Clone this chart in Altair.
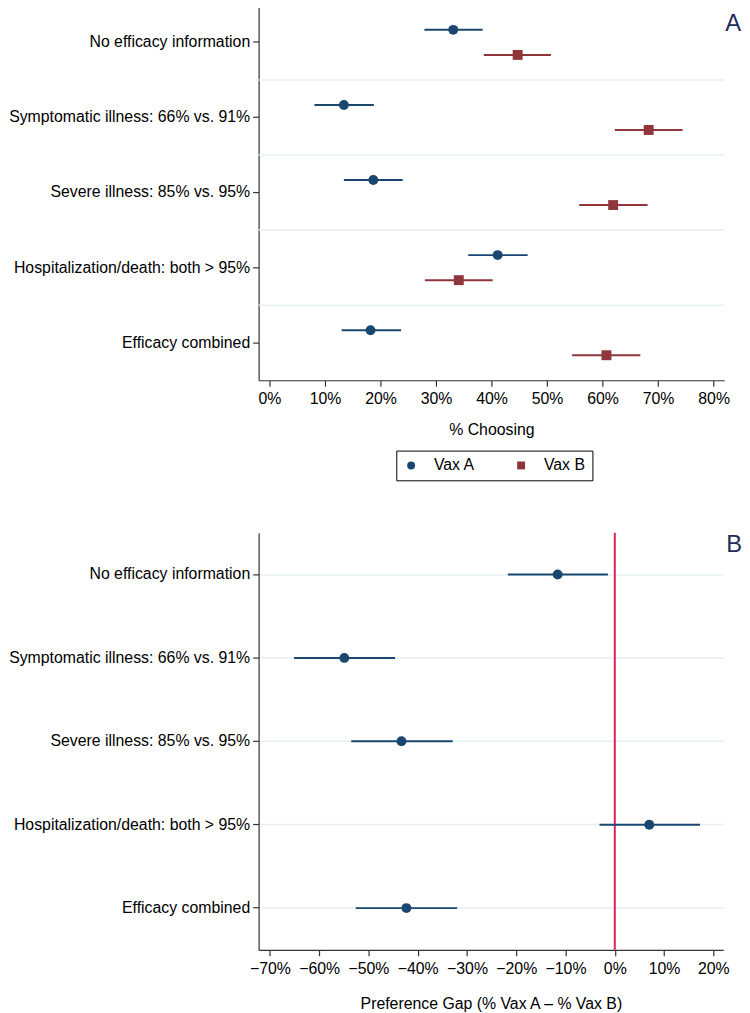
import altair as alt
import pandas as pd

categories = [
    "No efficacy information",
    "Symptomatic illness: 66% vs. 91%",
    "Severe illness: 85% vs. 95%",
    "Hospitalization/death: both > 95%",
    "Efficacy combined",
]
vaccines = ["Vax A", "Vax B"]

vax_a_est = [33.1, 13.4, 18.7, 41.1, 18.2]
vax_a_lo = [27.9, 8.1, 13.4, 35.8, 13.0]
vax_a_hi = [38.4, 18.8, 24.0, 46.5, 23.7]
vax_b_est = [44.7, 68.3, 61.9, 34.1, 60.7]
vax_b_lo = [38.6, 62.2, 55.8, 28.0, 54.5]
vax_b_hi = [50.7, 74.4, 68.1, 40.2, 66.8]

gap_est = [-11.6, -54.9, -43.3, 7.0, -42.3]
gap_lo = [-21.7, -65.1, -53.5, -3.1, -52.6]
gap_hi = [-1.4, -44.6, -32.9, 17.3, -32.0]

ticks_a = [0, 10, 20, 30, 40, 50, 60, 70, 80]
ticks_b = [-70, -60, -50, -40, -30, -20, -10, 0, 10, 20]

BLUE = "#1a476f"
RED = "#90353b"
LINE_RED = "#dc2454"
GRID = "#e6eff2"
NAVY = "#1c2e5a"
FONT = "Liberation Sans"

dfA = pd.DataFrame({
    "cat": categories * 2,
    "vax": [vaccines[0]] * 5 + [vaccines[1]] * 5,
    "est": vax_a_est + vax_b_est,
    "lo": vax_a_lo + vax_b_lo,
    "hi": vax_a_hi + vax_b_hi,
})
dfSep = pd.DataFrame({"cat": categories[1:]})
dfB = pd.DataFrame({"cat": categories, "est": gap_est, "lo": gap_lo, "hi": gap_hi})
dfZero = pd.DataFrame({"lo": [0]})

y_axis = alt.Axis(title=None, grid=False, labelPadding=3, labelLimit=0)
ysc = alt.Scale(domain=categories, paddingInner=0, paddingOuter=0)
yoff = alt.YOffset("vax:N", scale=alt.Scale(domain=vaccines, paddingInner=0, paddingOuter=0.5))

xA_scale = alt.Scale(domain=[-1.96, 81.9], nice=False, zero=False)
xA_axis = alt.Axis(values=ticks_a, labelExpr="datum.value + '%'", title="% Choosing",
                   grid=False, labelPadding=4, titlePadding=16)

legend = alt.Legend(title=None, orient="none", legendX=139, legendY=450, direction="horizontal",
                    strokeColor="#000", padding=7, labelFontSize=16, labelFont=FONT,
                    symbolSize=64, labelOffset=15, columnPadding=38, symbolStrokeWidth=0)
color = alt.Color("vax:N", scale=alt.Scale(domain=vaccines, range=[BLUE, RED]), legend=legend)
shape = alt.Shape("vax:N", scale=alt.Scale(domain=vaccines, range=["circle", "square"]), legend=legend)

sepA = alt.Chart(dfSep).mark_rule(color=GRID, strokeWidth=1.5).encode(
    y=alt.Y("cat:N", sort=categories, scale=ysc, bandPosition=0, axis=y_axis)
)
barsA = alt.Chart(dfA).mark_rule(strokeWidth=2).encode(
    x=alt.X("lo:Q", scale=xA_scale, axis=xA_axis),
    x2="hi:Q",
    y=alt.Y("cat:N", sort=categories, scale=ysc, axis=y_axis),
    yOffset=yoff,
    color=color,
)
ptsA = alt.Chart(dfA).mark_point(filled=True, size=100, opacity=1).encode(
    x=alt.X("est:Q", scale=xA_scale, axis=xA_axis),
    y=alt.Y("cat:N", sort=categories, scale=ysc, axis=y_axis),
    yOffset=yoff,
    color=color,
    shape=shape,
)
labA = alt.Chart(pd.DataFrame({"t": ["A"]})).mark_text(
    align="right", baseline="middle", fontSize=24, font=FONT, color=NAVY
).encode(x=alt.value(487), y=alt.value(19), text="t:N")

panelA = alt.layer(sepA, barsA, ptsA, labA).properties(width=470, height=379)

xB_scale = alt.Scale(domain=[-72.3, 22], nice=False, zero=False)
xB_axis = alt.Axis(values=ticks_b, labelExpr="format(datum.value, 'd') + '%'",
                   title="Preference Gap (% Vax A \u2013 % Vax B)", grid=False,
                   labelPadding=5, titlePadding=19)
yB_axis = alt.Axis(title=None, grid=True, gridColor=GRID, gridWidth=1.5, labelPadding=3, labelLimit=0)

zeroB = alt.Chart(dfZero).mark_rule(color=LINE_RED, strokeWidth=2).encode(
    x=alt.X("lo:Q", scale=xB_scale, axis=xB_axis)
)
barsB = alt.Chart(dfB).mark_rule(strokeWidth=2, color=BLUE).encode(
    x=alt.X("lo:Q", scale=xB_scale, axis=xB_axis),
    x2="hi:Q",
    y=alt.Y("cat:N", sort=categories, scale=ysc, axis=yB_axis),
)
ptsB = alt.Chart(dfB).mark_point(filled=True, size=100, opacity=1, shape="circle", color=BLUE).encode(
    x=alt.X("est:Q", scale=xB_scale, axis=xB_axis),
    y=alt.Y("cat:N", sort=categories, scale=ysc, axis=yB_axis),
)
labB = alt.Chart(pd.DataFrame({"t": ["B"]})).mark_text(
    align="right", baseline="middle", fontSize=24, font=FONT, color=NAVY
).encode(x=alt.value(488), y=alt.value(12), text="t:N")

panelB = alt.layer(zeroB, barsB, ptsB, labB).properties(width=469, height=421)

chart = alt.vconcat(panelA, panelB, spacing=51).resolve_scale(
    x="independent", y="independent", color="independent", shape="independent"
).properties(
    padding={"top": -8, "left": 0, "right": 0, "bottom": 0}
).configure_view(stroke=None).configure_axis(
    labelFont=FONT, labelFontSize=16, labelColor="#000",
    titleFont=FONT, titleFontSize=16, titleFontWeight="normal", titleColor="#000",
    domainColor="#333", tickColor="#333", tickSize=6, domainWidth=1.2, tickWidth=1.2,
)

chart.save("out.html", embed_options={"renderer": "svg", "actions": False})
